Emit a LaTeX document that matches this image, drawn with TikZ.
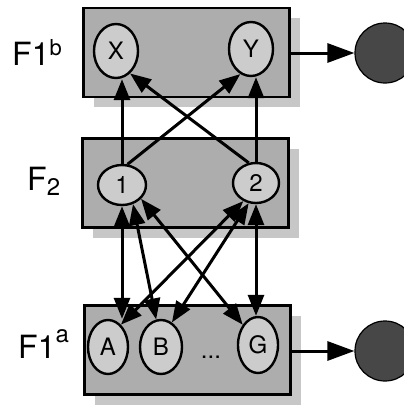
\documentclass[tikz,border=0pt]{standalone}
\usepackage{fontspec}
\setmainfont{TeX Gyre Heros}
\usetikzlibrary{arrows.meta,shapes,shadows}

\begin{document}
\begin{tikzpicture}[
                    x=1pt, y=-1pt,
                    every node/.style={inner sep=0pt, font=\fontsize{24}{24}\selectfont},
                    layer/.style={draw, line width=2.8pt, fill=black!32,
                                  minimum width=206pt, minimum height=89pt,
                                  drop shadow={shadow xshift=10pt, shadow yshift=-10pt,
                                               fill=black!22, opacity=1}},
                    unit/.style={ellipse, draw, line width=2.4pt, fill=black!20},
                    sink/.style={circle, draw, line width=1.2pt, fill=black!72, minimum size=60pt},
                    lbl/.style={anchor=base west, font=\fontsize{32}{32}\selectfont},
                    conn/.style={line width=3pt, -{Triangle[length=21pt,width=16pt]}},
                    both/.style={line width=3pt,
                                 {Triangle[length=21pt,width=16pt]}-{Triangle[length=21pt,width=16pt]}},
                    feed/.style={line width=3pt, -{Triangle[length=27pt,width=19pt]}}
                  ]
                  \useasboundingbox (0,0) rectangle (404,405);

                  \node[layer] (Fb) at (186.5,52.5) {};
                  \node[layer] (Fm) at (185.5,183) {};
                  \node[layer] (Fa) at (187.5,350) {};

                  \node[lbl] (lb) at (12,65) {F1\raisebox{10pt}{\fontsize{22}{22}\selectfont b}};
                  \node[lbl] (lm) at (27,190) {F\raisebox{-5pt}{\fontsize{24}{24}\selectfont 2}};
                  \node[lbl] (la) at (18,358) {F1\raisebox{16pt}{\fontsize{24}{24}\selectfont a}};

                  \node[unit, minimum width=44pt, minimum height=54pt] (X) at (116,51) {X};
                  \node[unit, minimum width=44pt, minimum height=54pt] (Y) at (251,49) {Y};
                  \node[unit, minimum width=48pt, minimum height=40pt] (n1) at (122,185) {1};
                  \node[unit, minimum width=46pt, minimum height=40pt] (n2) at (256,183) {2};
                  \node[unit, minimum width=40pt, minimum height=54pt] (A) at (108,347) {A};
                  \node[unit, minimum width=42pt, minimum height=54pt] (B) at (161,347) {B};
                  \node[unit, minimum width=40pt, minimum height=56pt] (G) at (258,345) {G};
                  \node (dots) at (211,357) {...};

                  \node[sink] (outb) at (385,53) {};
                  \node[sink] (outa) at (385,351) {};

                  \draw[feed] (outb.west -| Fb.east) -- (outb.west);
                  \draw[feed] (outa.west -| Fa.east) -- (outa.west);

                  \draw[conn] (n1.north) -- (n1.north |- X.south);
                  \draw[conn] (n1.75) -- (Y.-113);
                  \draw[conn] (n2.110) -- (X.-58);
                  \draw[conn] (n2.north) -- (n2.north |- Y.south);

                  \draw[both] (n1.south) -- (n1.south |- A.north);
                  \draw[both] (n1.-60) -- (B.100);
                  \draw[both] (n1.-36) -- (G.127);
                  \draw[both] (n2.-125) -- (A.60);
                  \draw[both] (n2.-110) -- (B.66);
                  \draw[both] (n2.south) -- (n2.south |- G.north);
                \end{tikzpicture}
\end{document}
